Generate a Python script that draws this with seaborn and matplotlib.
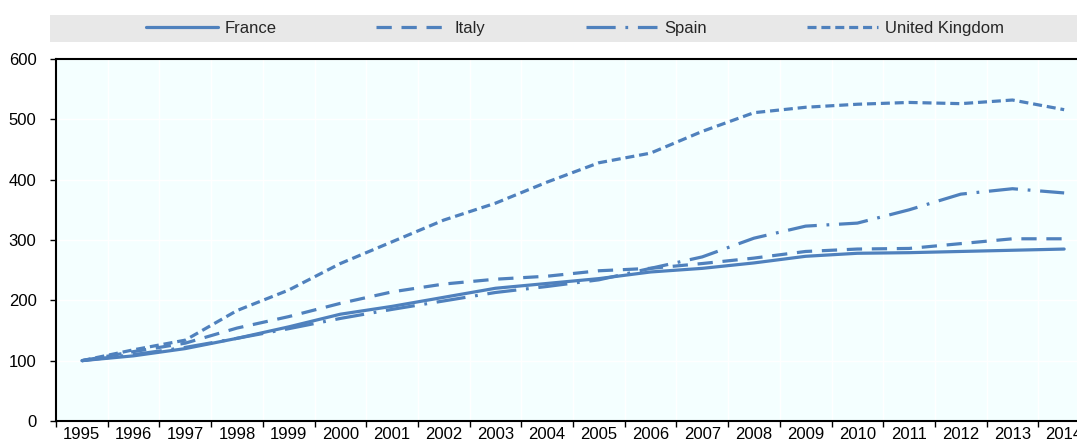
import matplotlib
matplotlib.use("Agg")
import matplotlib.pyplot as plt
import seaborn as sns
import pandas as pd
from matplotlib.patches import Rectangle
from matplotlib.ticker import FixedLocator

years = [str(y) for y in range(1995, 2015)]
france = [100, 108, 120, 137, 156, 177, 190, 205, 220, 228, 236, 247, 253, 262, 273, 278, 279, 281, 283, 285]
italy = [100, 115, 129, 154, 173, 195, 214, 227, 235, 240, 249, 253, 261, 270, 281, 285, 286, 294, 302, 302]
spain = [100, 110, 122, 137, 153, 170, 185, 199, 213, 223, 234, 253, 272, 303, 323, 328, 350, 376, 385, 378]
uk = [100, 118, 134, 183, 217, 261, 297, 333, 361, 396, 428, 444, 480, 511, 520, 525, 528, 526, 532, 516]
countries = ["France", "Italy", "Spain", "United Kingdom"]

rows = []
for name, vals in zip(countries, [france, italy, spain, uk]):
    for i, v in enumerate(vals):
        rows.append({"pos": i, "value": v, "country": name})
df = pd.DataFrame(rows)

sns.set_theme(style="white")
plt.rcParams["font.family"] = ["Liberation Sans", "DejaVu Sans"]
plt.rcParams["lines.scale_dashes"] = False
plt.rcParams["lines.dash_capstyle"] = "butt"

W, H = 1077, 445
fig = plt.figure(figsize=(W / 100, H / 100), dpi=100)
ax = fig.add_axes([56 / W, 1 - 421 / H, (1090 - 56) / W, (421 - 59) / H])
ax.set_facecolor("#F4FFFF")

color = "#4F81BD"
dashes = {
    "France": "",
    "Italy": (11, 7),
    "Spain": (21, 7, 2, 7),
    "United Kingdom": (6.5, 3.5),
}
sns.lineplot(data=df, x="pos", y="value", hue="country", style="country",
             palette=[color] * 4, dashes=dashes, linewidth=2.3, ax=ax,
             legend=True)

ax.set_xlim(-0.5, 19.5)
ax.set_ylim(0, 600)
ax.set_yticks(range(0, 601, 100))
ax.set_xticks(range(len(years)))
ax.set_xticklabels(years)
ax.xaxis.set_minor_locator(FixedLocator([i + 0.5 for i in range(-1, 20)]))
ax.tick_params(axis="x", which="major", length=0, pad=4, labelsize=12, colors="black")
ax.tick_params(axis="x", which="minor", length=4, width=1, direction="out", color="black", bottom=True)
ax.tick_params(axis="y", which="major", length=4, width=1, direction="out", pad=10, labelsize=12, colors="black", left=True)
ax.set_xlabel("")
ax.set_ylabel("")

ax.grid(False)
ax.grid(axis="x", which="minor", color="white", linewidth=1)
ax.grid(axis="y", which="major", color="white", linewidth=1)
ax.set_axisbelow(True)

for s in ["left", "bottom", "top"]:
    ax.spines[s].set_visible(True)
    ax.spines[s].set_color("black")
    ax.spines[s].set_linewidth(1.5)
ax.spines["right"].set_visible(False)

handles, labels = ax.get_legend_handles_labels()
ax.get_legend().remove()

fig.patches.append(Rectangle((50 / W, 1 - 42 / H), (W - 50) / W, 27 / H,
                             transform=fig.transFigure, facecolor="#E8E8E8",
                             edgecolor="none", zorder=0))
fig.legend(handles, labels, loc="center", bbox_to_anchor=(575 / W, 1 - 28.5 / H),
           ncol=4, frameon=False, fontsize=12, handlelength=4.3,
           handletextpad=0.4, columnspacing=6.0)

fig.savefig("out.png", dpi=100)
